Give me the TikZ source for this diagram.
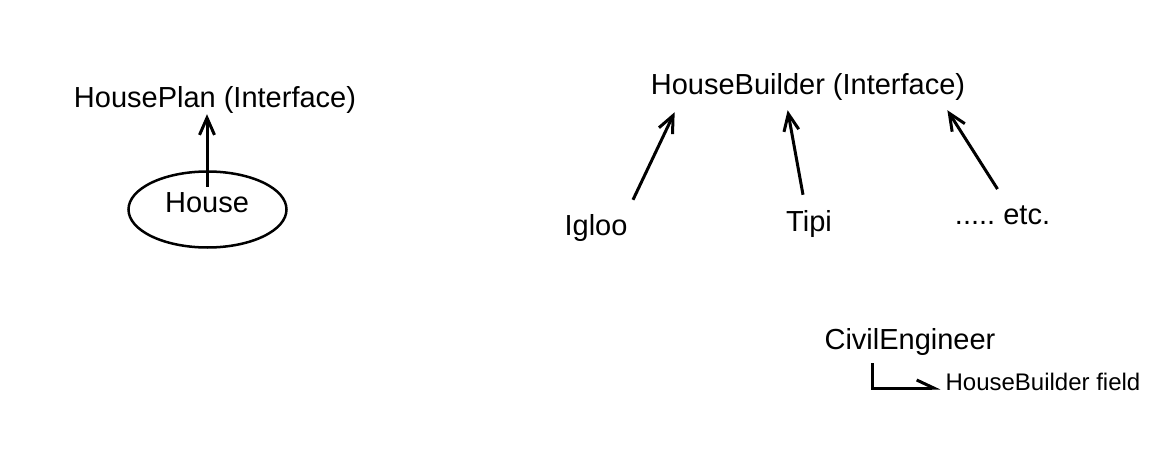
\documentclass[tikz,border=0pt]{standalone}
\usepackage{fontspec}
\setmainfont{Liberation Sans}
\usetikzlibrary{arrows.meta,shapes.geometric}
\frenchspacing
\begin{document}
\begin{tikzpicture}[x=1pt,y=-1pt,
  lbl/.style={anchor=base,inner sep=0pt,font=\fontsize{29}{34}\selectfont},
  smalllbl/.style={anchor=base,inner sep=0pt,font=\fontsize{24}{28}\selectfont},
  conn/.style={line width=3pt,-{Straight Barb[length=17pt,width=15pt,line width=3pt]}},
  half/.style={line width=3pt,-{Straight Barb[harpoon,length=17pt,width=16pt,line width=3pt]}}]
\useasboundingbox[fill=white] (0,0) rectangle (1158,457);
\node[lbl] (plan) at (215,108) {HousePlan (Interface)};
\node[ellipse,draw,line width=2.5pt,minimum width=158pt,minimum height=76pt,inner sep=0pt] (oval) at (207.5,209.5) {};
\node[lbl] (house) at (207,212) {House};
\draw[conn] ([yshift=5pt]house.north) -- (house.north |- plan.south);
\node[lbl] (builder) at (808,95) {HouseBuilder (Interface)};
\node[lbl] (igloo) at (596,235) {Igloo};
\node[lbl] (tipi) at (809,231) {Tipi};
\node[lbl] (etc) at (1002.5,224) {..... etc.};
\draw[conn] ([shift={(37,-14)}]igloo.north) -- ([shift={(24,11)}]builder.south west);
\draw[conn] ([shift={(-6,-15)}]tipi.north) -- ([shift={(137,9)}]builder.south west);
\draw[conn] ([shift={(-5,-16)}]etc.north) -- ([shift={(-18,9)}]builder.south east);
\node[lbl] (civil) at (910,349) {CivilEngineer};
\node[smalllbl] (field) at (1043,390) {HouseBuilder field};
\draw[half] ([shift={(48,8)}]civil.south west) |- ([shift={(-5,-2)}]field.base west);
\end{tikzpicture}
\end{document}
